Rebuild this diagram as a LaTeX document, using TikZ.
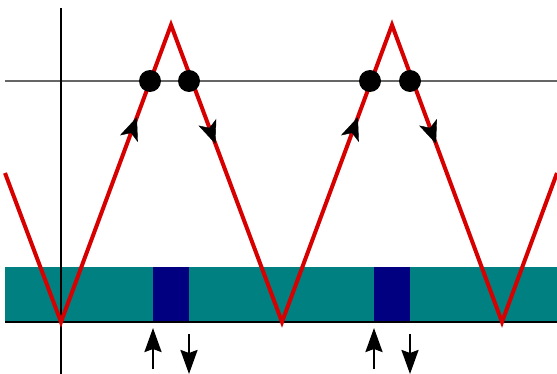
\documentclass[tikz,border=0pt]{standalone}
\usepackage{tikz}
\usetikzlibrary{arrows.meta,decorations.markings}
\definecolor{bandteal}{RGB}{0,128,128}
\definecolor{slotnavy}{RGB}{0,0,128}
\definecolor{wavered}{RGB}{215,0,0}

\begin{document}
\begin{tikzpicture}[x=1pt,y=-1pt,
                    wave/.style={wavered,line width=4pt,line join=miter},
                    dot/.style={circle,fill=black,inner sep=0pt,minimum size=22pt},
                    flow/.style={line width=2.4pt,-{Stealth[length=24pt,width=17pt,inset=3pt]}},
                    upmark/.style={postaction=decorate,decoration={markings,
                      mark=at position 0.69 with {\arrow[black]{Stealth[length=23pt,width=19pt,inset=6pt]}}}},
                    downmark/.style={postaction=decorate,decoration={markings,
                      mark=at position 0.40 with {\arrow[black]{Stealth[length=23pt,width=19pt,inset=6pt]}}}}]
  \useasboundingbox (0,0) rectangle (557,374);

  % --- band with the two slots --------------------------------------------
  \fill[bandteal] (5,267) rectangle (557,322);
  \fill[slotnavy] (153,267) rectangle (189,322);
  \fill[slotnavy] (374,267) rectangle (410,322);

  % --- axes and level line ------------------------------------------------
  \draw[black!60,line width=2pt] (5,81) -- (557,81);
  \draw[black,line width=2pt] (5,322) -- (557,322);
  \draw[black,line width=2pt] (60.5,8) -- (60.5,374);

  % --- triangle wave ------------------------------------------------------
  \coordinate (w0) at (5,173);
  \coordinate (m1) at (61,322);
  \coordinate (p1) at (171,25);
  \coordinate (m2) at (282,322);
  \coordinate (p2) at (392,25);
  \coordinate (m3) at (502,322);
  \coordinate (w1) at (557,173);
  \draw[wave] (w0) -- (m1) -- (p1) -- (m2) -- (p2) -- (m3) -- (w1);
  \path[upmark] (m1) -- (p1);
  \path[downmark] (p1) -- (m2);
  \path[upmark] (m2) -- (p2);
  \path[downmark] (p2) -- (m3);

  % --- crossing points ----------------------------------------------------
  \node[dot] (c1) at (150,81) {};
  \node[dot] (c2) at (189,81) {};
  \node[dot] (c3) at (370,81) {};
  \node[dot] (c4) at (410,81) {};

  % --- in / out arrows under the slots ------------------------------------
  \draw[flow] (153,369) -- (153,328);
  \draw[flow] (189,334) -- (189,374);
  \draw[flow] (374,369) -- (374,328);
  \draw[flow] (410,334) -- (410,374);
\end{tikzpicture}
\end{document}
